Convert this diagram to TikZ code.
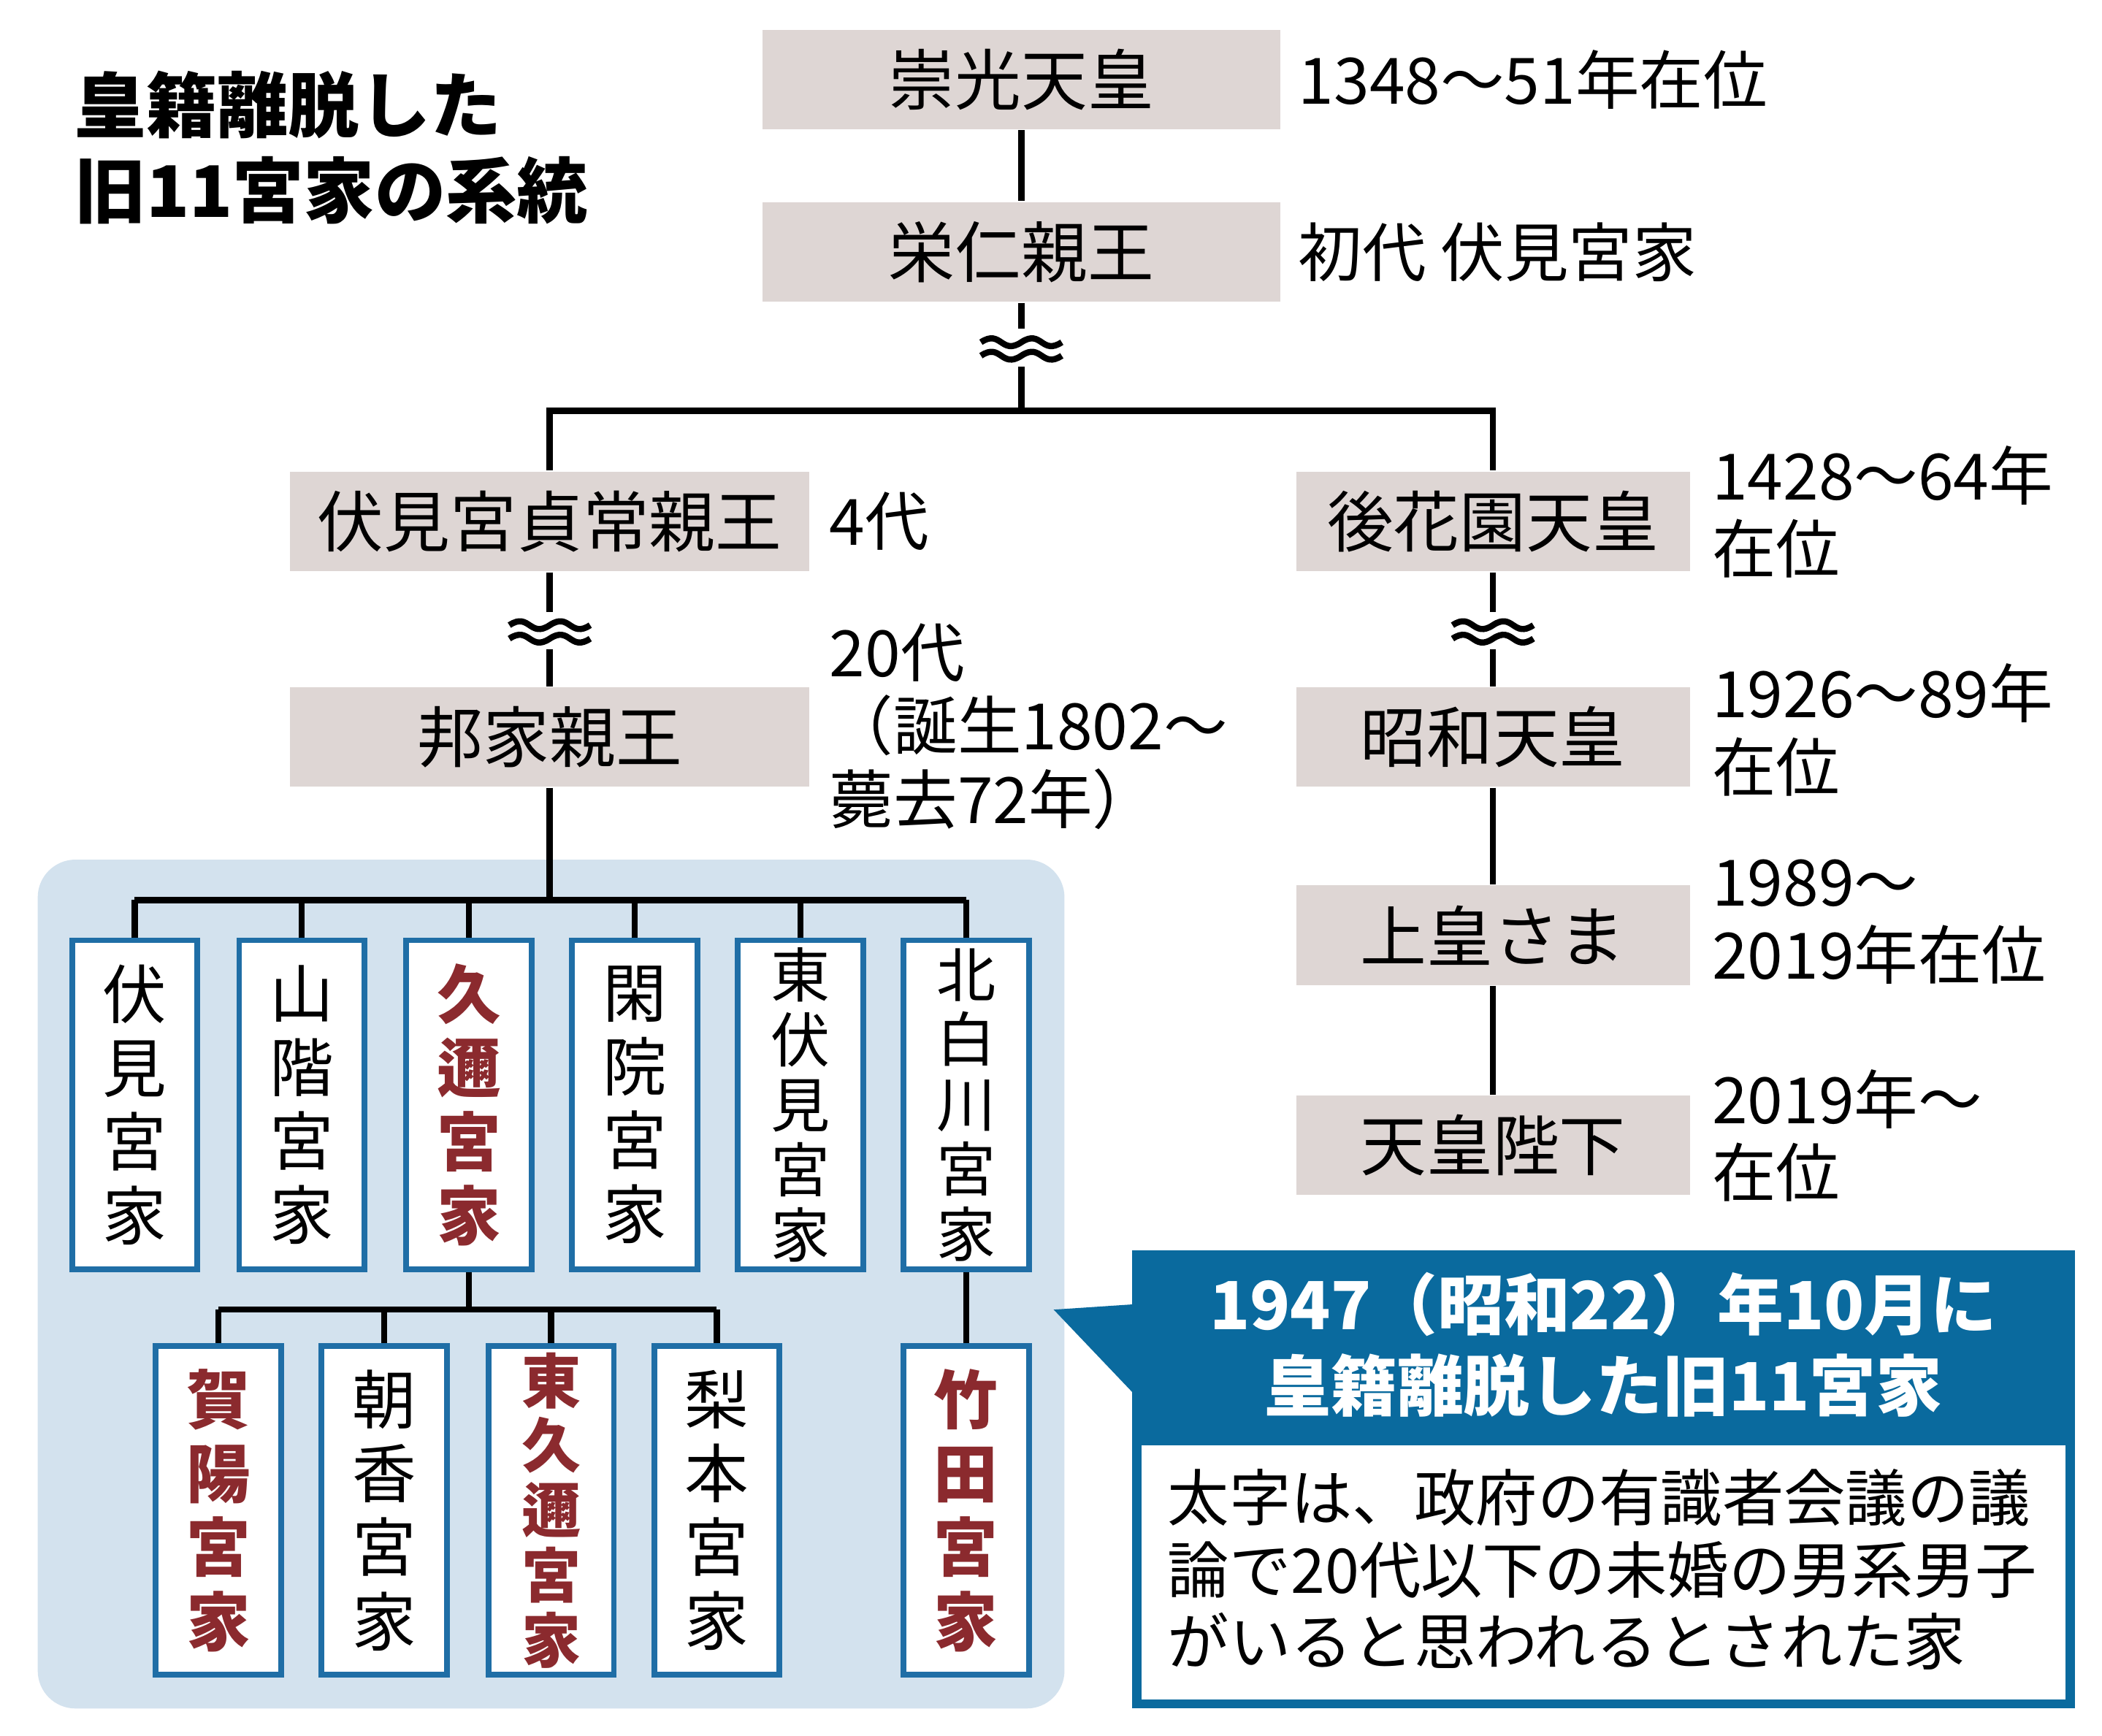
\documentclass[tikz,border=0pt]{standalone}
\usepackage{fontspec}
\setmainfont{Noto Sans CJK JP}
\usetikzlibrary{positioning}
\definecolor{gbox}{HTML}{DED6D4}
\definecolor{panel}{HTML}{D3E2EE}
\definecolor{bord}{HTML}{1F6EA6}
\definecolor{redt}{HTML}{8B2A2E}
\definecolor{cal}{HTML}{0A6A9E}
\tikzset{
 gray/.style={fill=gbox,inner sep=0,font=\fontsize{14}{16}\selectfont},
 lab/.style={anchor=west,align=left,inner sep=0,font=\fontsize{13.5}{15.5}\selectfont},
 vb/.style={draw=bord,line width=1.2pt,fill=white,minimum width=0.93cm,minimum height=2.44cm,inner sep=0,align=center,font=\fontsize{13.5}{15.6}\selectfont},
 vb5/.style={vb,font=\fontsize{12.5}{13.7}\selectfont},
 rd/.style={text=redt,font=\bfseries\fontsize{13.5}{15.6}\selectfont},
 rd5/.style={text=redt,font=\bfseries\fontsize{12.5}{13.7}\selectfont},
 ln/.style={line width=1.3pt},
}
\newcommand{\wavy}[2]{%
 \fill[white] (#1-32,#2-14) rectangle (#1+32,#2+14);
 \draw[ln] (#1-30,#2-4) .. controls (#1-15,#2-14) and (#1-15,#2+6) .. (#1,#2-4) .. controls (#1+15,#2-14) and (#1+15,#2+6) .. (#1+30,#2-4);
 \draw[ln] (#1-30,#2+6) .. controls (#1-15,#2-4) and (#1-15,#2+16) .. (#1,#2+6) .. controls (#1+15,#2-4) and (#1+15,#2+16) .. (#1+30,#2+6);}
\begin{document}
\begin{tikzpicture}[x=0.01cm,y=-0.01cm]
\useasboundingbox[fill=white] (0,0) rectangle (1560,1288);
\node[anchor=north west,align=left,inner sep=0,font=\bfseries\fontsize{15}{18}\selectfont] (title) at (55,52) {皇籍離脱した\\旧11宮家の系統};
% gray boxes
\node[gray,minimum width=3.84cm,minimum height=0.74cm] (suko) at (758,59) {崇光天皇};
\node[gray,minimum width=3.84cm,minimum height=0.74cm] (yoshi) at (758,187) {栄仁親王};
\node[gray,minimum width=3.85cm,minimum height=0.74cm] (sada) at (408,387) {伏見宮貞常親王};
\node[gray,minimum width=3.85cm,minimum height=0.74cm] (kuni) at (408,547) {邦家親王};
\node[gray,minimum width=2.92cm,minimum height=0.74cm] (gohana) at (1108,387) {後花園天皇};
\node[gray,minimum width=2.92cm,minimum height=0.74cm] (showa) at (1108,547) {昭和天皇};
\node[gray,minimum width=2.92cm,minimum height=0.74cm] (joko) at (1108,694) {上皇さま};
\node[gray,minimum width=2.92cm,minimum height=0.74cm] (tenno) at (1108,850) {天皇陛下};
% labels
\node[lab] (l1) at (963,59) {1348〜51年在位};
\node[lab] (l2) at (963,187) {初代 伏見宮家};
\node[lab] (l3) at (615,387) {4代};
\node[lab,anchor=north west] (l4) at (615,462) {20代\\（誕生1802〜\\薨去72年）};
\node[lab,anchor=north west] (l5) at (1270,330) {1428〜64年\\在位};
\node[lab,anchor=north west] (l6) at (1270,492) {1926〜89年\\在位};
\node[lab,anchor=north west] (l7) at (1270,637) {1989〜\\2019年在位};
\node[lab,anchor=north west] (l8) at (1270,793) {2019年〜\\在位};
% connectors upper
\draw[ln] (suko) -- (yoshi);
\coordinate (jn) at (758,305);
\draw[ln] (yoshi) -- (jn);
\wavy{758}{258}
\draw[ln] (sada.north) |- (jn) -| (gohana.north);
\draw[ln] (sada) -- (kuni);
\wavy{408}{468}
\draw[ln] (gohana) -- (showa);
\wavy{1108}{468}
\draw[ln] (showa) -- (joko);
\draw[ln] (joko) -- (tenno);
% panel
\fill[panel,rounded corners=0.28cm] (28,638) rectangle (790,1268);
\coordinate (j2) at (408,668);
\draw[ln] (kuni) -- (j2);
\foreach \x/\n in {100/a,224/b,348/c,471/d,594/e,717/f} \coordinate (t\n) at (\x,668);
\draw[ln] (ta) -- (tf);
\node[vb] (fushimi) at (100,820) {伏\\見\\宮\\家};
\node[vb] (yamashina) at (224,820) {山\\階\\宮\\家};
\node[vb,rd] (kuni2) at (348,820) {久\\邇\\宮\\家};
\node[vb] (kanin) at (471,820) {閑\\院\\宮\\家};
\node[vb5] (higashifushimi) at (594,820) {東\\伏\\見\\宮\\家};
\node[vb5] (kitashira) at (717,820) {北\\白\\川\\宮\\家};
\foreach \n/\m in {a/fushimi,b/yamashina,c/kuni2,d/kanin,e/higashifushimi,f/kitashira} \draw[ln] (t\n) -- (\m.north);
\coordinate (j3) at (348,972);
\coordinate (ja) at (162,972); \coordinate (jd) at (532,972);
\draw[ln] (kuni2.south) -- (j3);
\draw[ln] (ja) -- (jd);
\node[vb,rd] (kaya) at (162,1121) {賀\\陽\\宮\\家};
\node[vb] (asaka) at (285,1121) {朝\\香\\宮\\家};
\node[vb5,rd5] (higashikuni) at (409,1121) {東\\久\\邇\\宮\\家};
\node[vb] (nashimoto) at (532,1121) {梨\\本\\宮\\家};
\node[vb,rd] (takeda) at (717,1121) {竹\\田\\宮\\家};
\foreach \x/\m in {162/kaya,285/asaka,409/higashikuni,532/nashimoto} \draw[ln] (\x,972) -- (\m.north);
\draw[ln] (kitashira) -- (takeda);
% callout
\coordinate (tip) at (782,972);
\fill[cal] (840,928) rectangle (1540,1268);
\fill[cal] (tip) -- (842,968) -- (842,1035) -- cycle;
\node[text=white,align=center,inner sep=0,font=\bfseries\fontsize{14}{17}\selectfont] (ctitle) at (1190,998) {1947（昭和22）年10月に\\皇籍離脱した旧11宮家};
\node[fill=white,minimum width=6.85cm,minimum height=1.89cm,inner sep=0] (cbox) at (1190,1167) {};
\node[anchor=west,align=left,inner sep=0,font=\fontsize{13}{15.2}\selectfont] (ctext) at (866,1165) {太字は、政府の有識者会議の議\\論で20代以下の未婚の男系男子\\がいると思われるとされた家};
\end{tikzpicture}
\end{document}
